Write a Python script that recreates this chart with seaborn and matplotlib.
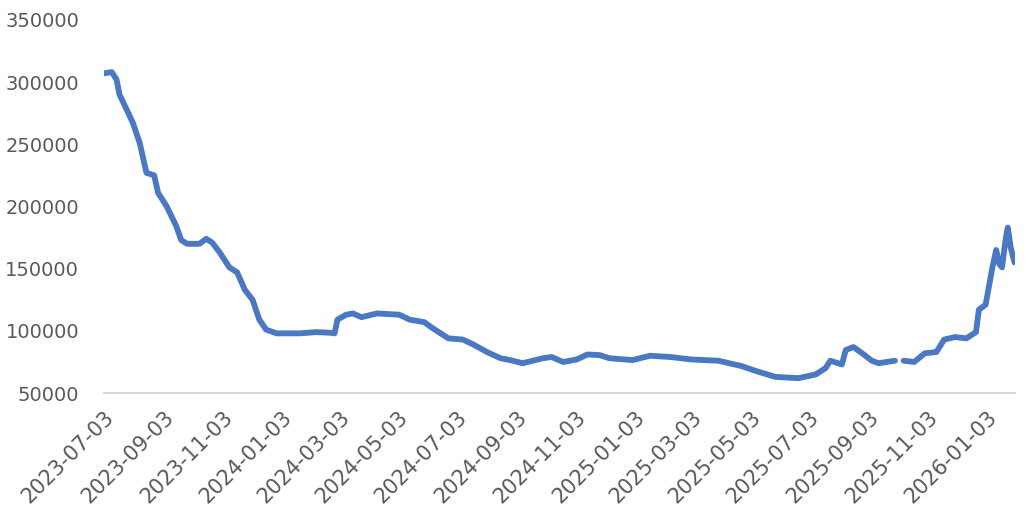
import pandas as pd
import numpy as np
import matplotlib
matplotlib.use("Agg")
import matplotlib.pyplot as plt
import seaborn as sns

# readings (gap for the October holiday)
dates_a = ["2023-07-03", "2023-07-11", "2023-07-16", "2023-07-19", "2023-07-27", "2023-08-02",
           "2023-08-09", "2023-08-16", "2023-08-24", "2023-08-28", "2023-09-06", "2023-09-16",
           "2023-09-21", "2023-09-27", "2023-10-10", "2023-10-17", "2023-10-23", "2023-10-31",
           "2023-11-10", "2023-11-18", "2023-11-26", "2023-12-04", "2023-12-11", "2023-12-18",
           "2023-12-29", "2024-01-22", "2024-02-08", "2024-02-22", "2024-02-27", "2024-03-01",
           "2024-03-10", "2024-03-17", "2024-03-26", "2024-04-11", "2024-05-04", "2024-05-15",
           "2024-05-30", "2024-06-08", "2024-06-24", "2024-07-09", "2024-07-20", "2024-08-03",
           "2024-08-17", "2024-08-27", "2024-09-09", "2024-09-30", "2024-10-09", "2024-10-21",
           "2024-11-04", "2024-11-15", "2024-11-28", "2024-12-08", "2025-01-01", "2025-01-19",
           "2025-02-09", "2025-03-03", "2025-03-31", "2025-04-11", "2025-04-24", "2025-05-09",
           "2025-05-29", "2025-06-22", "2025-07-10", "2025-07-20", "2025-07-25", "2025-08-06",
           "2025-08-10", "2025-08-18", "2025-08-27", "2025-09-06", "2025-09-13", "2025-09-30"]
values_a = [307000, 308000, 302000, 290000, 277000, 267000,
            251000, 227000, 225000, 211000, 200000, 184000,
            173000, 170000, 170000, 174000, 171000, 163000,
            151000, 147000, 133000, 125000, 109000, 101000,
            98000, 98000, 99000, 98500, 98000, 109000,
            113000, 114000, 111000, 114000, 113000, 109000,
            107000, 102000, 94000, 93000, 89000, 83000,
            78000, 76500, 74000, 78000, 79000, 75000,
            77000, 81000, 80500, 78000, 76500, 80000,
            79000, 77000, 76000, 74000, 71700, 67700,
            63000, 62000, 65000, 70000, 76000, 73000,
            84600, 87000, 82000, 76000, 74000, 76000]

dates_b = ["2025-10-09", "2025-10-20", "2025-10-31", "2025-11-12", "2025-11-20", "2025-12-01",
           "2025-12-13", "2025-12-23", "2025-12-26", "2026-01-02", "2026-01-06", "2026-01-09",
           "2026-01-13", "2026-01-16", "2026-01-19", "2026-01-23", "2026-01-25", "2026-01-28",
           "2026-02-01"]
values_b = [76000, 75000, 82000, 83000, 93000, 95000,
            94000, 99000, 117000, 121000, 138000, 151000,
            165000, 154000, 151000, 175000, 183000, 167000,
            155000]

tick_dates = ["2023-07-03", "2023-09-03", "2023-11-03", "2024-01-03", "2024-03-03",
              "2024-05-03", "2024-07-03", "2024-09-03", "2024-11-03", "2025-01-03",
              "2025-03-03", "2025-05-03", "2025-07-03", "2025-09-03", "2025-11-03",
              "2026-01-03"]
y_ticks = [50000, 100000, 150000, 200000, 250000, 300000, 350000]

df = pd.DataFrame({
    "date": pd.to_datetime(dates_a + dates_b),
    "value": values_a + values_b,
    "seg": ["a"] * len(dates_a) + ["b"] * len(dates_b),
})

sns.set_style("white")
plt.rcParams["font.family"] = ["DejaVu Sans"]

fig = plt.figure(figsize=(10.3, 5.22), dpi=100)
ax = fig.add_axes([0.101, 0.247, 0.884, 0.715])

sns.lineplot(data=df, x="date", y="value", units="seg", estimator=None,
             color="#4A78C2", linewidth=4.2, ax=ax, solid_capstyle="round")

ax.set_xlim(pd.Timestamp("2023-07-03"), pd.Timestamp("2026-02-01"))
ax.set_ylim(50000, 350000)
ax.set_yticks(y_ticks)
ax.set_yticklabels([str(v) for v in y_ticks])
ax.set_xticks(pd.to_datetime(tick_dates))
ax.set_xticklabels(tick_dates, rotation=45, ha="right", rotation_mode="anchor")
ax.set_xlabel("")
ax.set_ylabel("")

for s in ["top", "right", "left"]:
    ax.spines[s].set_visible(False)
ax.spines["bottom"].set_color("#D9D9D9")
ax.spines["bottom"].set_linewidth(1.5)
ax.tick_params(axis="x", colors="#D9D9D9", length=6, width=1.5, labelcolor="#595959",
               labelsize=15, pad=4)
ax.tick_params(axis="y", length=0, labelcolor="#595959", labelsize=14, pad=18)

fig.savefig("out.png", dpi=100)
